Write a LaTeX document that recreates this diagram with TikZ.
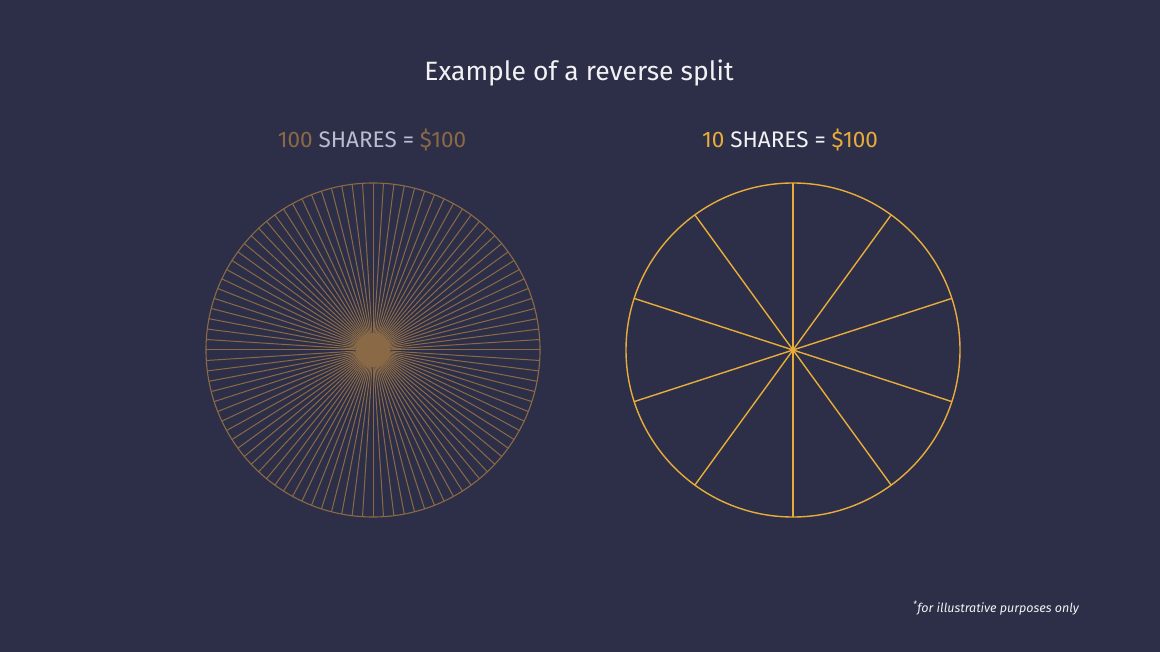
\documentclass[tikz,border=0pt]{standalone}
\usepackage{fontspec}
\setmainfont{Fira Sans}
\usetikzlibrary{positioning}
\definecolor{bgblue}{HTML}{2D2F48}
\definecolor{brownline}{HTML}{8A6A46}
\definecolor{goldline}{HTML}{E8AC3A}
\definecolor{greytext}{HTML}{B9BDD0}
\definecolor{whitetext}{HTML}{F2F2F4}
\tikzset{
  head/.style={text=whitetext,font=\fontsize{26.5}{31}\selectfont,inner sep=0pt},
  sublabel/.style={font=\fontsize{22.5}{27}\selectfont,inner sep=0pt},
  note/.style={text=whitetext,font=\itshape\fontsize{12.5}{15}\selectfont,inner sep=0pt}
}
\begin{document}
\begin{tikzpicture}[x=1pt,y=-1pt]
\fill[bgblue] (0,0) rectangle (1160,652);
\useasboundingbox (0,0) rectangle (1160,652);
\node[head] (title) at (579,73) {Example of a reverse split};
\node[sublabel] (lbl100) at (372,140) {\textcolor{brownline}{100} \textcolor{greytext}{SHARES =} \textcolor{brownline}{\$100}};
\node[sublabel] (lbl10) at (790,140) {\textcolor{goldline}{10} \textcolor{whitetext}{SHARES =} \textcolor{goldline}{\$100}};
% 100 slices
\coordinate (c100) at (373,350);
\draw[brownline,line width=1.1pt] (c100) circle (167);
\foreach \a in {0,...,99}
  \draw[brownline,line width=1pt] (c100) -- ++(3.6*\a:167);
\fill[brownline] (c100) circle (17);
% 10 slices
\coordinate (c10) at (793,350);
\draw[goldline,line width=1.4pt] (c10) circle (167);
\foreach \a in {0,...,9}
  \draw[goldline,line width=1.4pt] (c10) -- ++(18+36*\a:167);
\node[note] (foot) at (996,608) {\textsuperscript{*}for illustrative purposes only};
\end{tikzpicture}
\end{document}
